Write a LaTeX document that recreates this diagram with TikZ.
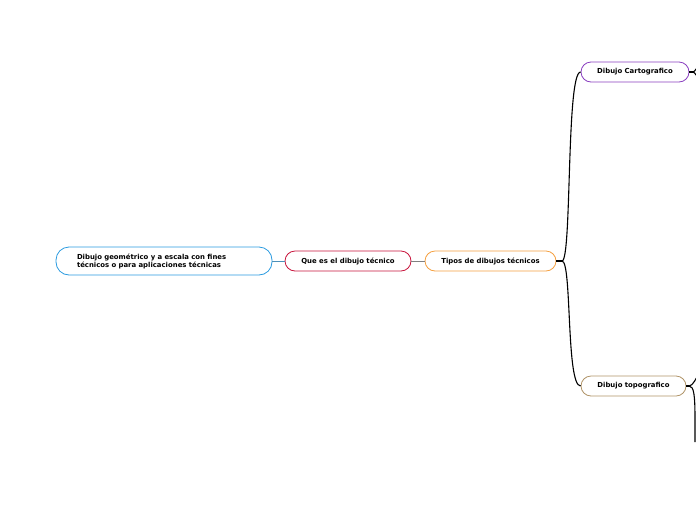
\documentclass[tikz,border=0pt]{standalone}
\usepackage{fontspec}
\setmainfont{DejaVu Sans}
\usetikzlibrary{positioning}
\definecolor{defblue}{HTML}{2A9BE0}
\definecolor{quered}{HTML}{C8143C}
\definecolor{tiporange}{HTML}{F5A040}
\definecolor{cartpurple}{HTML}{8A3FC0}
\definecolor{topotan}{HTML}{B09468}
\tikzset{
  topic/.style={draw,rounded corners=10pt,line width=0.8pt,fill=white,
    minimum height=20pt,inner sep=0pt,font=\bfseries\fontsize{6.9}{8}\selectfont},
  branch/.style={line width=1.1pt,black},
  thin link/.style={line width=0.6pt}
}
\begin{document}
\begin{tikzpicture}[x=1pt,y=-1pt]
			\useasboundingbox (0,0) rectangle (696,520);
			\clip (0,0) rectangle (696,520);
			\node[topic,draw=defblue,minimum height=28pt,rounded corners=13pt,text width=174pt,inner xsep=21pt,align=left] (def) at (164,261) {Dibujo geométrico y a escala con fines\\técnicos o para aplicaciones técnicas};
			\node[topic,draw=quered,minimum width=126pt] (que) at (348,261) {Que es el dibujo técnico};
			\node[topic,draw=tiporange,minimum width=131pt] (tipos) at (490.5,261) {Tipos de dibujos técnicos};
			\node[topic,draw=cartpurple,minimum width=108pt] (cart) at (635,72) {Dibujo Cartografico};
			\node[topic,draw=topotan,minimum width=105pt] (topo) at (633.5,386) {Dibujo topografico};
			% links
			\draw[thin link,defblue!60!gray] (def) -- (que);
			\draw[thin link,gray] (que) -- (tipos);
			\coordinate (tipj) at (562,261);
			\draw[branch] (tipos.east) -- (tipj);
			\draw[branch] (tipj) .. controls (572,261) and (566,72) .. (cart.west);
			\draw[branch] (tipj) .. controls (572,261) and (566,386) .. (topo.west);
			% branches leaving the page
			\coordinate (cartj) at (693,72);
			\draw[branch] (cart.east) -- (cartj);
			\draw[branch] (cartj) .. controls (695,72) and (697,66) .. (700,66);
			\draw[branch] (cartj) .. controls (695,72) and (697,78) .. (700,78);
			\coordinate (topoj) at (689,386);
			\draw[branch] (topo.east) -- (topoj);
			\draw[branch] (topoj) .. controls (693,386) and (696,378) .. (700,372);
			\draw[branch] (topoj) .. controls (694,386) and (695,395) .. (695,420) -- (695,442);
\end{tikzpicture}
\end{document}
